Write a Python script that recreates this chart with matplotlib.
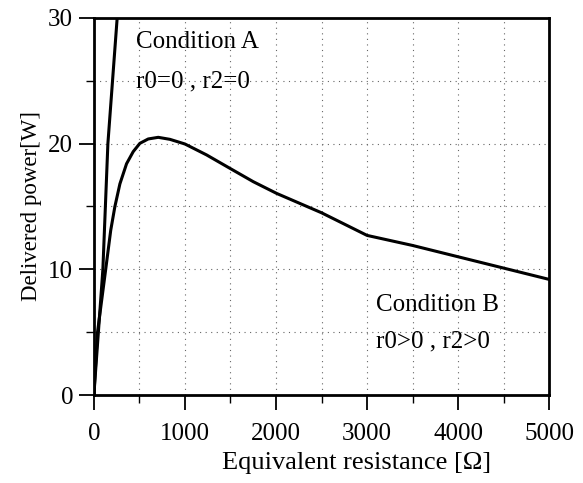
import matplotlib.pyplot as plt
from matplotlib.ticker import MultipleLocator

# Condition A (r0=0, r2=0): steep, nearly straight rise
res_a = [0, 99, 154, 256, 300]
pow_a = [0, 10, 20, 30, 34]

# Condition B (r0>0, r2>0)
res_b = [0, 40, 130, 185, 231, 286, 359, 432, 505, 597, 707, 835, 1000,
         1238, 1495, 1751, 2007, 2500, 3000, 3500, 4000, 4500, 5000]
pow_b = [0, 5, 10, 13.1, 15.0, 16.8, 18.4, 19.36, 20.02, 20.37, 20.5, 20.34, 19.97,
         19.1, 18.03, 16.97, 16.04, 14.5, 12.7, 11.9, 11.0, 10.1, 9.2]

plt.rcParams['font.family'] = ['Liberation Serif', 'DejaVu Serif']

fig = plt.figure(figsize=(5.83, 4.83), dpi=100)
ax = fig.add_axes([0.161, 0.182, 0.781, 0.781])

ax.plot(res_a, pow_a, color='black', lw=2.2, solid_capstyle='butt')
ax.plot(res_b, pow_b, color='black', lw=2.2, solid_joinstyle='round')

ax.set_xlim(0, 5000)
ax.set_ylim(0, 30)
ax.xaxis.set_major_locator(MultipleLocator(1000))
ax.xaxis.set_minor_locator(MultipleLocator(500))
ax.yaxis.set_major_locator(MultipleLocator(10))
ax.yaxis.set_minor_locator(MultipleLocator(5))

# 点线网格
ax.grid(True, which='both', color='#666666', linestyle=(0, (1, 4)), lw=0.8)
ax.tick_params(which='major', direction='out', length=11, width=1.3, labelsize=18)
ax.tick_params(axis='x', which='major', pad=9)
ax.tick_params(axis='y', which='major', pad=4)
ax.tick_params(which='minor', direction='out', length=6, width=1)
for s in ax.spines.values():
    s.set_linewidth(2)

ax.set_xlabel('Equivalent resistance [\u03a9]', fontsize=19)
ax.xaxis.set_label_coords(0.576, -0.152)
ax.set_ylabel('Delivered power[W]', fontsize=16.5, labelpad=4)

ax.text(0.093, 0.935, 'Condition A', transform=ax.transAxes, fontsize=18, va='center')
ax.text(0.093, 0.832, 'r0=0 , r2=0', transform=ax.transAxes, fontsize=18, va='center')
ax.text(0.620, 0.240, 'Condition B', transform=ax.transAxes, fontsize=18, va='center')
ax.text(0.620, 0.142, 'r0>0 , r2>0', transform=ax.transAxes, fontsize=18, va='center')

fig.savefig('out.png', dpi=100)
